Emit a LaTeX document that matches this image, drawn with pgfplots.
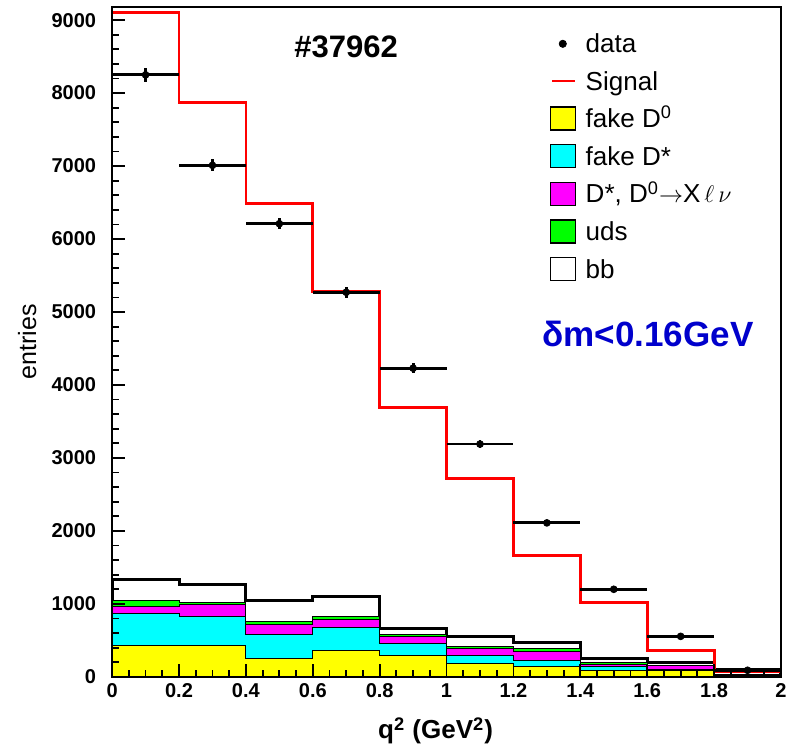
\documentclass[border=0pt]{standalone}
\usepackage{pgfplots}
\pgfplotsset{compat=1.18}
\usepackage{fontspec}
\setmainfont{Liberation Sans}
\definecolor{ryellow}{RGB}{255,255,0}
\definecolor{rcyan}{RGB}{0,255,255}
\definecolor{rmagenta}{RGB}{255,0,255}
\definecolor{rgreen}{RGB}{0,255,0}
\definecolor{rred}{RGB}{255,0,0}
\definecolor{dmblue}{RGB}{0,0,204}
\begin{document}
\begin{tikzpicture}
\begin{axis}[name=ax, scale only axis, width=334pt, height=334.5pt,
 axis on top,
 xmin=0, xmax=2, ymin=0, ymax=9180,
 xtick={0,0.2,0.4,0.6,0.8,1,1.2,1.4,1.6,1.8,2},
 xticklabels={0,0.2,0.4,0.6,0.8,1,1.2,1.4,1.6,1.8,2},
 ytick={0,1000,2000,3000,4000,5000,6000,7000,8000,9000},
 yticklabels={0,1000,2000,3000,4000,5000,6000,7000,8000,9000},
 minor x tick num=3, minor y tick num=4,
 tick align=inside, tick pos=left,
 major tick length=6.5pt, minor tick length=3.5pt,
 every tick/.style={black, line width=0.9pt},
 axis line style={line width=1pt},
 ticklabel style={font=\bfseries\fontsize{10}{12}\selectfont},
 yticklabel style={xshift=-4.5pt},
 /pgf/number format/assume math mode=true,
 scaled y ticks=false,
 xlabel={\textbf{q\textsuperscript{2} (GeV\textsuperscript{2})}},
 ylabel={entries},
 every axis x label/.style={at={(axis description cs:0.4835,-0.0807)}, anchor=center, font=\fontsize{13}{15}\selectfont},
 every axis y label/.style={at={(axis description cs:-0.127,0.5)}, rotate=90, anchor=center, font=\fontsize{12.5}{14}\selectfont},
 legend style={draw=none, fill=none, at={(0.654,0.963)}, anchor=north west, inner sep=0pt, outer sep=0pt, row sep=6.6pt, column sep=4.5pt, font=\fontsize{13}{15}\selectfont, nodes={inner sep=0pt, text height=10.5pt, text depth=1.5pt}},
 legend cell align=left,
]
% legend
\addlegendimage{legend image code/.code={\fill[black] (6.25pt,0) circle (1.8pt);}}
\addlegendentry{data}
\addlegendimage{legend image code/.code={\draw[rred,line width=1.4pt] (1pt,0)--(12.5pt,0);}}
\addlegendentry{Signal}
\addlegendimage{legend image code/.code={\draw[fill=ryellow,draw=black,line width=0.7pt] (0pt,-5.75pt) rectangle (12.5pt,5.75pt);}}
\addlegendentry{fake D\textsuperscript{0}}
\addlegendimage{legend image code/.code={\draw[fill=rcyan,draw=black,line width=0.7pt] (0pt,-5.75pt) rectangle (12.5pt,5.75pt);}}
\addlegendentry{fake D*}
\addlegendimage{legend image code/.code={\draw[fill=rmagenta,draw=black,line width=0.7pt] (0pt,-5.75pt) rectangle (12.5pt,5.75pt);}}
\addlegendentry{D*, D\textsuperscript{0}$\rightarrow$X$\,\ell\,\nu$}
\addlegendimage{legend image code/.code={\draw[fill=rgreen,draw=black,line width=0.7pt] (0pt,-5.75pt) rectangle (12.5pt,5.75pt);}}
\addlegendentry{uds}
\addlegendimage{legend image code/.code={\draw[fill=white,draw=black,line width=0.7pt] (0pt,-5.75pt) rectangle (12.5pt,5.75pt);}}
\addlegendentry{bb}
% stacked backgrounds (cumulative)
\addplot[const plot, fill=white, draw=black, line width=1.5pt, forget plot] coordinates {(0,1330)(0.2,1262)(0.4,1052)(0.6,1097)(0.8,668)(1,549)(1.2,471)(1.4,245)(1.6,200)(1.8,100)(2,100)} \closedcycle;
\addplot[const plot, fill=rgreen, draw=black, line width=0.5pt, forget plot] coordinates {(0,1052)(0.2,1015)(0.4,759)(0.6,827)(0.8,585)(1,421)(1.2,388)(1.4,196)(1.6,160)(1.8,30)(2,30)} \closedcycle;
\addplot[const plot, fill=rmagenta, draw=black, line width=0.5pt, forget plot] coordinates {(0,965)(0.2,988)(0.4,722)(0.6,786)(0.8,553)(1,394)(1.2,352)(1.4,174)(1.6,151)(1.8,25)(2,25)} \closedcycle;
\addplot[const plot, fill=rcyan, draw=black, line width=0.5pt, forget plot] coordinates {(0,874)(0.2,827)(0.4,576)(0.6,672)(0.8,462)(1,286)(1.2,219)(1.4,137)(1.6,100)(1.8,15)(2,15)} \closedcycle;
\addplot[const plot, fill=ryellow, draw=black, line width=0.5pt, forget plot] coordinates {(0,425)(0.2,425)(0.4,251)(0.6,357)(0.8,292)(1,180)(1.2,137)(1.4,92)(1.6,82)(1.8,10)(2,10)} \closedcycle;
% signal
\addplot[const plot, draw=rred, line width=1.4pt, forget plot] coordinates {(0,9100)(0.2,7870)(0.4,6490)(0.6,5280)(0.8,3690)(1,2716)(1.2,1660)(1.4,1015)(1.6,357)(1.8,75)(2,75)};
% data
\addplot[black, only marks, mark=*, mark size=1.7pt, forget plot,
  error bars/.cd, x dir=both, x explicit, y dir=both, y explicit, error mark=none,
  error bar style={line width=1.4pt}]
 table[x=x, y=y, x error=ex, y error=ey] {
x y ex ey
0.1 8250 0.1 91
0.3 7010 0.1 84
0.5 6210 0.1 79
0.7 5270 0.1 73
0.9 4230 0.1 65
1.1 3190 0.1 56
1.3 2110 0.1 46
1.5 1200 0.1 35
1.7 555 0.1 23
1.9 90 0.1 9
};
\node[font=\bfseries\fontsize{15.5}{18}\selectfont] at (axis cs:0.70,8630) {\#37962};
\node[font=\bfseries\fontsize{17.5}{20}\selectfont, text=dmblue, anchor=east, inner sep=0pt] at (axis cs:1.919,4705) {δm<0.16GeV};
\end{axis}
\path ([shift={(-56pt,-37pt)}]ax.south west) rectangle ([shift={(6.5pt,3.5pt)}]ax.north east);
\end{tikzpicture}
\end{document}
